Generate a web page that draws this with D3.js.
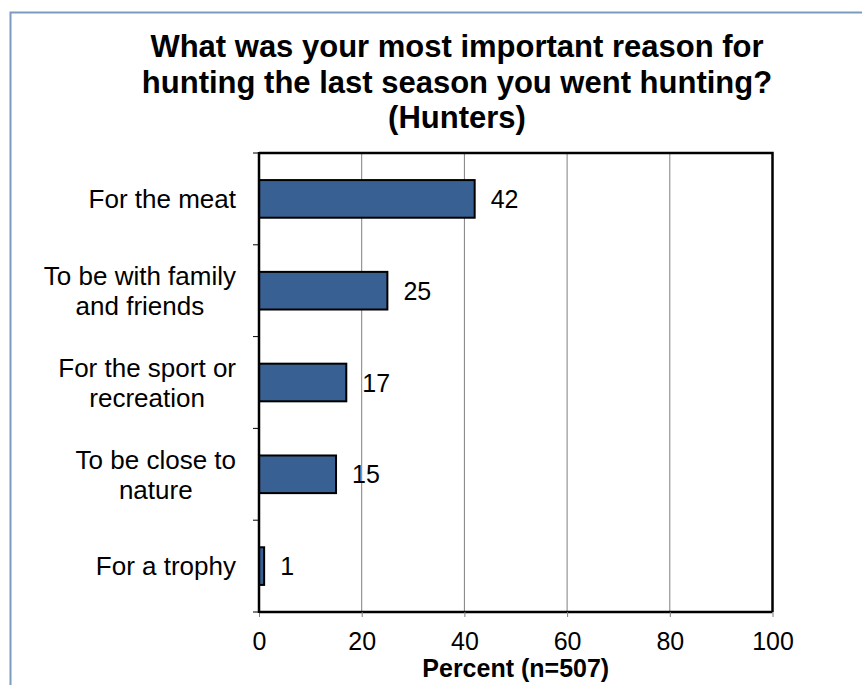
<!DOCTYPE html>
<html>
<head>
<meta charset="utf-8">
<script src="https://cdn.jsdelivr.net/npm/d3@7"></script>
<style>
  html, body { margin: 0; padding: 0; background: #ffffff; }
  svg { display: block; font-family: "Liberation Sans", Arial, sans-serif; }
</style>
</head>
<body>
<svg id="chart" width="862" height="685"></svg>
<script>
// Survey question and responses
const titleLines = [
  "What was your most important reason for",
  "hunting the last season you went hunting?",
  "(Hunters)"
];
const categories = [
  ["For the meat"],
  ["To be with family", "and friends"],
  ["For the sport or", "recreation"],
  ["To be close to", "nature"],
  ["For a trophy"]
];
const values = [42, 25, 17, 15, 1];
const xTicks = [0, 20, 40, 60, 80, 100];
const xTitle = "Percent (n=507)";

const svg = d3.select("#chart");

// Outer frame
svg.append("path")
  .attr("d", "M10.5,700 V12.5 H870")
  .attr("fill", "none")
  .attr("stroke", "#7b9bc0")
  .attr("stroke-width", 2);

const plot = { left: 259, right: 772.5, top: 153, bottom: 612 };

const x = d3.scaleLinear().domain([0, 100]).range([plot.left, plot.right]);
const y = d3.scaleBand()
  .domain(d3.range(categories.length))
  .range([plot.top, plot.bottom])
  .paddingInner(0.59)
  .paddingOuter(0.295);

// Title
svg.append("g").selectAll("text")
  .data(titleLines)
  .join("text")
  .attr("x", 457)
  .attr("y", (d, i) => 57 + i * 35.5)
  .attr("text-anchor", "middle")
  .attr("font-size", 31)
  .attr("font-weight", "bold")
  .attr("fill", "#000")
  .text(d => d);

// Vertical gridlines
svg.append("g").selectAll("line")
  .data(xTicks.filter(t => t > 0 && t < 100))
  .join("line")
  .attr("x1", d => x(d)).attr("x2", d => x(d))
  .attr("y1", plot.top).attr("y2", plot.bottom)
  .attr("stroke", "#7f7f7f")
  .attr("stroke-width", 1);

// Bars
svg.append("g").selectAll("rect")
  .data(values)
  .join("rect")
  .attr("x", x(0))
  .attr("y", (d, i) => y(i))
  .attr("width", d => x(d) - x(0))
  .attr("height", y.bandwidth())
  .attr("fill", "#386092")
  .attr("stroke", "#000")
  .attr("stroke-width", 2);

// Value labels
svg.append("g").selectAll("text")
  .data(values)
  .join("text")
  .attr("x", d => x(d) + 16)
  .attr("y", (d, i) => y(i) + y.bandwidth() / 2)
  .attr("dy", "0.36em")
  .attr("font-size", 25)
  .attr("fill", "#000")
  .text(d => d);

// Plot frame: top and right edges
svg.append("path")
  .attr("d", `M${plot.left},${plot.top} H${plot.right} V${plot.bottom}`)
  .attr("fill", "none")
  .attr("stroke", "#000")
  .attr("stroke-width", 2.5);

// Bottom axis
const xAxis = d3.axisBottom(x).tickValues(xTicks).tickSize(5).tickPadding(15);
const gx = svg.append("g")
  .attr("transform", `translate(0,${plot.bottom})`)
  .call(xAxis);
gx.select(".domain").attr("stroke", "#000").attr("stroke-width", 2.5)
  .attr("d", `M${plot.left},0 H${plot.right}`);
gx.selectAll(".tick line").attr("stroke", "#7f7f7f");
gx.selectAll(".tick text")
  .attr("font-size", 25)
  .attr("font-family", "Liberation Sans, Arial, sans-serif")
  .attr("fill", "#000");

// Left axis with ticks at category boundaries
const boundaries = d3.range(categories.length + 1)
  .map(i => plot.top + i * (plot.bottom - plot.top) / categories.length);
const gy = svg.append("g");
gy.selectAll("line.tick")
  .data(boundaries)
  .join("line")
  .attr("class", "tick")
  .attr("x1", plot.left - 6).attr("x2", plot.left)
  .attr("y1", d => d).attr("y2", d => d)
  .attr("stroke", "#000")
  .attr("stroke-width", 1);
gy.append("line")
  .attr("x1", plot.left).attr("x2", plot.left)
  .attr("y1", plot.top - 1).attr("y2", plot.bottom + 1)
  .attr("stroke", "#000")
  .attr("stroke-width", 2.5);

// Category labels: lines centred on each other, block right-aligned
const labelRight = 236;
const lineH = 30;
categories.forEach((lines, i) => {
  const g = svg.append("g");
  const cy = y(i) + y.bandwidth() / 2;
  const texts = g.selectAll("text")
    .data(lines)
    .join("text")
    .attr("y", (d, j) => cy + (j - (lines.length - 1) / 2) * lineH)
    .attr("dy", "0.36em")
    .attr("text-anchor", "middle")
    .attr("font-size", 26)
    .attr("fill", "#000")
    .text(d => d);
  let maxW = 0;
  texts.each(function () { maxW = Math.max(maxW, this.getComputedTextLength()); });
  texts.attr("x", labelRight - maxW / 2);
});

// Axis title
svg.append("text")
  .attr("x", x(50))
  .attr("y", 677)
  .attr("text-anchor", "middle")
  .attr("font-size", 25)
  .attr("font-weight", "bold")
  .attr("fill", "#000")
  .text(xTitle);
</script>
</body>
</html>
